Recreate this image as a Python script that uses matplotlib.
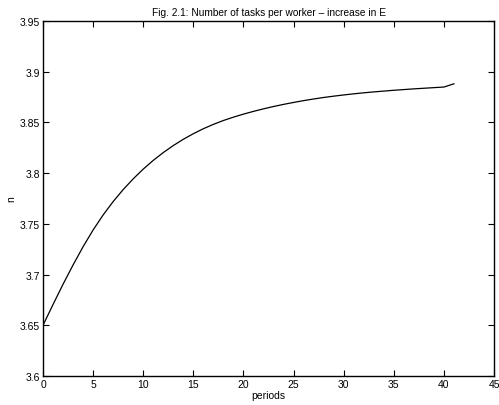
import matplotlib
matplotlib.use("Agg")
import matplotlib.pyplot as plt

# number of tasks per worker
periods = list(range(0, 42))
n_tasks = [3.6500, 3.6705, 3.6905, 3.7095, 3.7275, 3.7440, 3.7588, 3.7720, 3.7838, 3.7944,
           3.8040, 3.8126, 3.8203, 3.8272, 3.8334, 3.8389, 3.8438, 3.8481, 3.8519, 3.8552,
           3.8582, 3.8609, 3.8634, 3.8657, 3.8678, 3.8697, 3.8715, 3.8731, 3.8746, 3.8759,
           3.8771, 3.8782, 3.8792, 3.8801, 3.8809, 3.8817, 3.8824, 3.8831, 3.8837, 3.8843,
           3.8849, 3.8881]

x_ticks = [0, 5, 10, 15, 20, 25, 30, 35, 40, 45]
y_ticks = [3.6, 3.65, 3.7, 3.75, 3.8, 3.85, 3.9, 3.95]
y_labels = ["3.6", "3.65", "3.7", "3.75", "3.8", "3.85", "3.9", "3.95"]

plt.rcParams["font.family"] = ["Liberation Sans", "DejaVu Sans"]
plt.rcParams["font.size"] = 7.5

fig = plt.figure(figsize=(4.99, 4.06), dpi=100)
ax = fig.add_axes([0.0862, 0.0714, 0.9038, 0.8744])
ax.plot(periods, n_tasks, color="black", lw=0.9)

ax.set_xlim(0, 45)
ax.set_ylim(3.6, 3.95)
ax.set_xticks(x_ticks)
ax.set_yticks(y_ticks)
ax.set_yticklabels(y_labels)
ax.tick_params(direction="in", length=4, width=0.8, top=True, right=True, pad=2)
for s in ax.spines.values():
    s.set_linewidth(1.0)

ax.set_xlabel("periods", labelpad=1)
ax.set_ylabel("n", labelpad=3)
ax.set_title("Fig. 2.1: Number of tasks per worker \u2013 increase in E", fontsize=7.3, pad=4)

fig.savefig("out.png", dpi=100)
